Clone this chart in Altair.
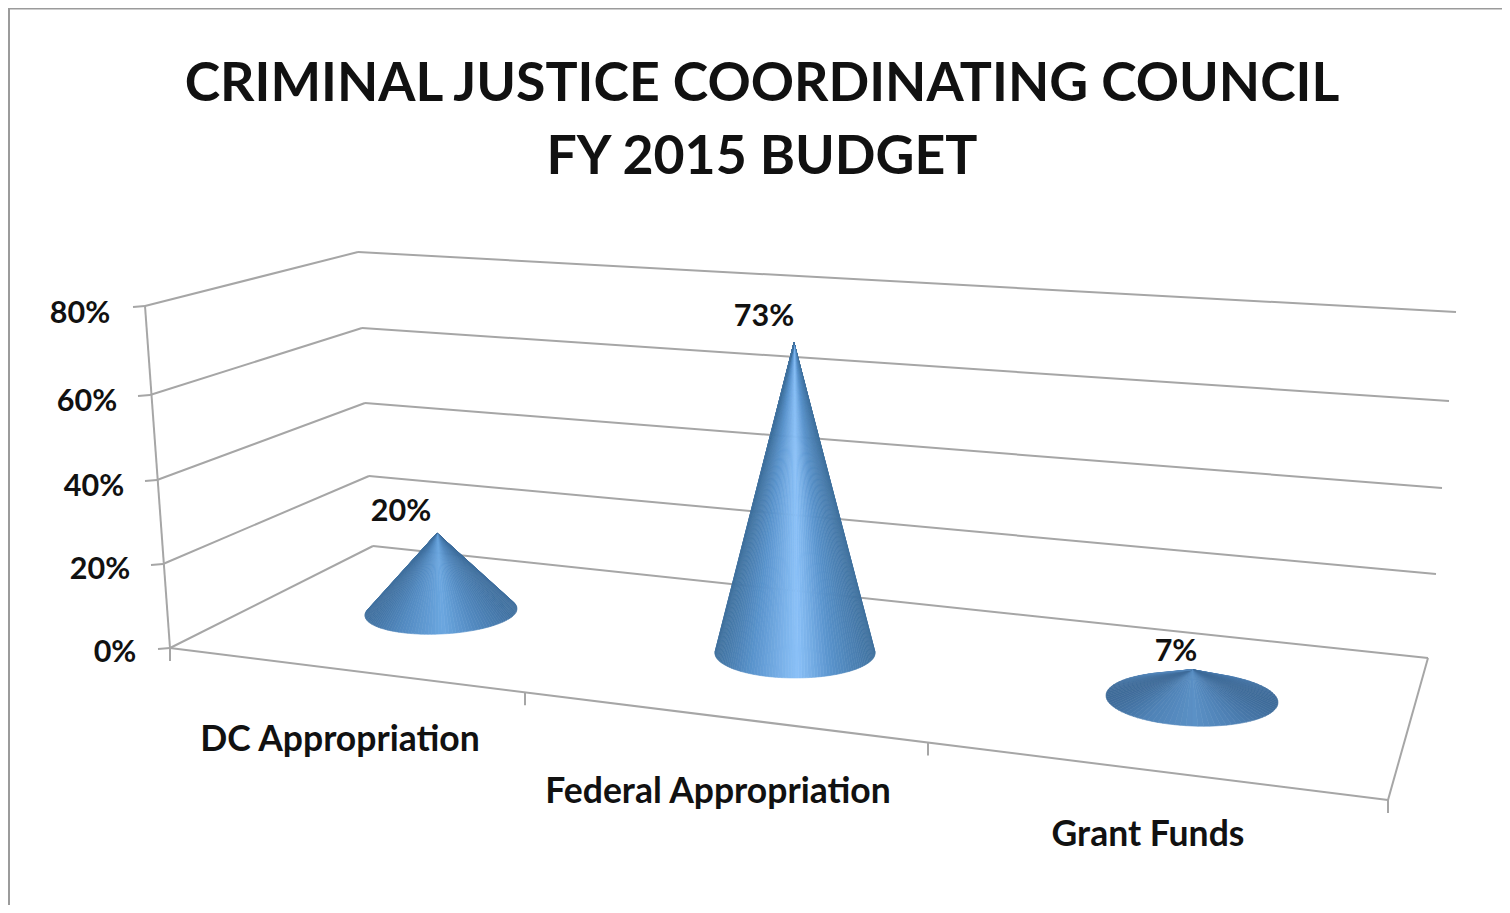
import math
import altair as alt
import pandas as pd

# ---- chart content ----
TITLE = ["CRIMINAL JUSTICE COORDINATING COUNCIL", "FY 2015 BUDGET"]
categories = ["DC Appropriation", "Federal Appropriation", "Grant Funds"]
values = [20, 73, 7]
value_labels = ["20%", "73%", "7%"]
tick_labels = ["0%", "20%", "40%", "60%", "80%"]
tick_values = [0, 20, 40, 60, 80]

# ---- perspective geometry, in picture pixels ----
WALL_BACK_LEFT = [(373, 546), (369, 476), (365, 403), (362, 328), (358, 252)]
WALL_BACK_RIGHT = [(1428, 658), (1436, 574), (1442, 488), (1449, 401), (1456, 312)]
WALL_FRONT_LEFT = [(170, 648), (163, 564), (157, 480), (150, 395), (145, 306)]
FLOOR_FRONT = [(170, 648), (1388, 800)]
FLOOR_TICKS_X = [170, 525, 928, 1388]
BASES = [
    dict(cx=441, cy=612, a=76, b=22, s=-0.045, ax=437, unit=3.95, light="#6ba7e0", mid="#5289c0", dark="#3f6f9e"),
    dict(cx=795, cy=653, a=80, b=25, s=0.0, ax=794, unit=4.25, light="#8bc1f8", mid="#5a94cd", dark="#41729f"),
    dict(cx=1192, cy=699, a=86, b=27, s=0.04, ax=1192, unit=4.2, light="#5b91c6", mid="#4f82b6", dark="#3e6b99"),
]
CAT_POS = [(340, 740), (718, 792), (1148, 835)]
VAL_POS = [(401, 512), (764, 317), (1176, 652)]
TICK_POS = [(115, 653), (100, 570), (94, 487), (87, 402), (80, 314)]
TITLE_POS = [(762, 85), (762, 158)]
GRID = "#a6a6a6"
FRAME = "#9b9b9b"
FONT = "Lato"
INK = "#111111"
LEFT_EDGE, TOP_EDGE, RIGHT_EDGE, BOTTOM_EDGE = 8, 8, 1502, 905

# ---- lines ----
rows = []
def seg(name, p, q, color=GRID):
    rows.append(dict(g=name, i=0, x=p[0], y=p[1], c=color))
    rows.append(dict(g=name, i=1, x=q[0], y=q[1], c=color))

for k, v in enumerate(tick_values):
    seg(f"side{v}", WALL_FRONT_LEFT[k], WALL_BACK_LEFT[k])
    seg(f"back{v}", WALL_BACK_LEFT[k], WALL_BACK_RIGHT[k])
    fx, fy = WALL_FRONT_LEFT[k]
    seg(f"tick{v}", (fx - 12, fy + 1), (fx, fy))
seg("left", WALL_FRONT_LEFT[0], WALL_FRONT_LEFT[-1])
seg("front", *FLOOR_FRONT)
seg("right", WALL_BACK_RIGHT[0], FLOOR_FRONT[1])
(x0, y0), (x1, y1) = FLOOR_FRONT
for tx in FLOOR_TICKS_X:
    ty = y0 + (tx - x0) * (y1 - y0) / (x1 - x0)
    seg(f"xt{tx}", (tx, ty), (tx, ty + 13))
seg("frame", (9, BOTTOM_EDGE), (9, 8.5), FRAME)
rows.append(dict(g="frame", i=2, x=RIGHT_EDGE, y=8.5, c=FRAME))
lines = pd.DataFrame(rows)

# ---- cones: fans of shaded triangles, apex height from the value ----
def hex2rgb(h):
    return [int(h[i:i + 2], 16) for i in (1, 3, 5)]

def shade(u, base):
    stops = [(-1.0, base["dark"]), (-0.55, base["mid"]), (0.03, base["light"]), (0.45, base["mid"]), (1.0, base["dark"])]
    for (u0, c0), (u1, c1) in zip(stops, stops[1:]):
        if u <= u1:
            f = max(0, (u - u0) / (u1 - u0))
            p0, p1 = hex2rgb(c0), hex2rgb(c1)
            return "#%02x%02x%02x" % tuple(round(p + (q - p) * f) for p, q in zip(p0, p1))
    return base["dark"]

features = []
for idx, (val, base) in enumerate(zip(values, BASES)):
    cx, cy, a, b, s = base["cx"], base["cy"], base["a"], base["b"], base["s"]
    ax = base["ax"]
    ay = cy - val * base["unit"]
    ux, uy = (ax - cx) / a, (ay - cy - s * (ax - cx)) / b
    d = math.hypot(ux, uy)
    phi = math.atan2(uy, ux)
    half = math.acos(min(1, 1 / d))
    t_a = phi + half
    t_b = phi - half + 2 * math.pi
    n = 80
    pts = []
    for j in range(n + 1):
        t = t_a + (t_b - t_a) * j / n
        pts.append((cx + a * math.cos(t), cy + s * a * math.cos(t) + b * math.sin(t), math.cos(t)))
    for j in range(n):
        p, q = pts[j], pts[j + 1]
        ring = [[ax, ay], [p[0], p[1]], [q[0], q[1]], [ax, ay]]
        features.append({
            "type": "Feature",
            "properties": {"c": shade((p[2] + q[2]) / 2, base), "cat": categories[idx]},
            "geometry": {"type": "Polygon", "coordinates": [ring]},
        })

texts = pd.DataFrame(
    [dict(t=c, x=p[0], y=p[1], size=53.6) for c, p in zip(TITLE, TITLE_POS)]
    + [dict(t=c, x=p[0], y=p[1], size=35.5) for c, p in zip(categories, CAT_POS)]
    + [dict(t=c, x=p[0], y=p[1], size=30.5) for c, p in zip(value_labels, VAL_POS)]
    + [dict(t=c, x=p[0], y=p[1], size=30.5) for c, p in zip(tick_labels, TICK_POS)]
)

# ---- scales: picture pixels ----
W, H = RIGHT_EDGE - LEFT_EDGE, BOTTOM_EDGE - TOP_EDGE
X = alt.X("x:Q", axis=None, scale=alt.Scale(domain=[LEFT_EDGE, RIGHT_EDGE], nice=False, zero=False))
Y = alt.Y("y:Q", axis=None, scale=alt.Scale(domain=[BOTTOM_EDGE, TOP_EDGE], nice=False, zero=False))

line_layer = alt.Chart(lines).mark_line(strokeWidth=2, clip=False).encode(
    x=X, y=Y, detail="g:N", order="i:Q", color=alt.Color("c:N", scale=None))
fan_layer = alt.Chart(alt.Data(values=features)).mark_geoshape(strokeWidth=0.6).project(
    type="identity", scale=1, translate=[-LEFT_EDGE, -TOP_EDGE]
).encode(
    color=alt.Color("properties.c:N", scale=None), stroke=alt.Stroke("properties.c:N", scale=None))
text_layer = alt.Chart(texts).mark_text(font=FONT, fontWeight="bold", color=INK, align="center", baseline="middle").encode(
    x=X, y=Y, text="t:N", size=alt.Size("size:Q", scale=None))

chart = alt.layer(line_layer, fan_layer, text_layer).resolve_scale(color="independent").properties(
    width=W, height=H,
    padding=0,
    autosize=alt.AutoSizeParams(type="none"),
    background="white",
).configure_view(stroke=None)

chart.save("out.html", embed_options={"renderer": "svg", "actions": False})
